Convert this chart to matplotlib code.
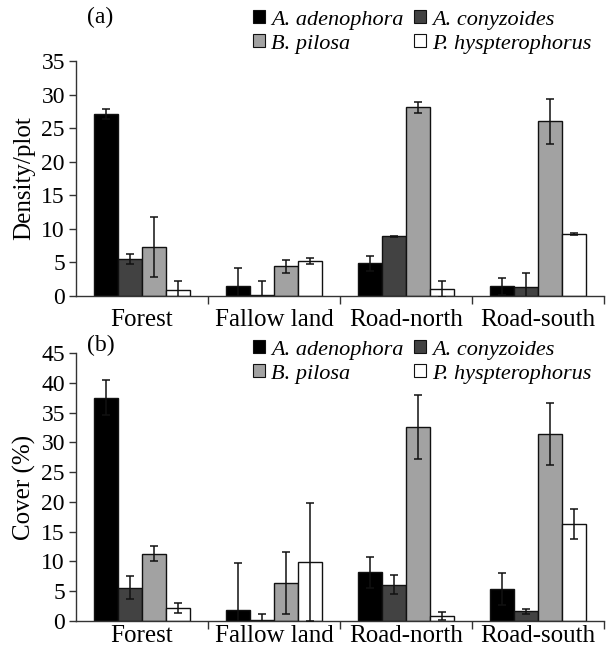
import numpy as np
import matplotlib
matplotlib.use("Agg")
import matplotlib.pyplot as plt
from matplotlib.patches import Patch

plt.rcParams['font.family'] = ['Liberation Serif', 'DejaVu Serif']

categories = ['Forest', 'Fallow land', 'Road-north', 'Road-south']
species = ['A. adenophora', 'A. conyzoides', 'B. pilosa', 'P. hyspterophorus']
colors = ['#000000', '#424242', '#a2a2a2', '#ffffff']

# (a) density per plot, mean and error, one list per species
density_adenophora = [27.1, 1.55, 4.85, 1.45]
density_conyzoides = [5.5, 0.2, 8.9, 1.35]
density_pilosa = [7.3, 4.4, 28.1, 26.0]
density_hyst = [0.85, 5.2, 1.0, 9.2]
density_err_adenophora = [0.8, 2.6, 1.1, 1.25]
density_err_conyzoides = [0.7, 2.0, 0.1, 2.1]
density_err_pilosa = [4.4, 0.95, 0.8, 3.35]
density_err_hyst = [1.4, 0.4, 1.2, 0.15]

# (b) cover (%)
cover_adenophora = [37.5, 1.9, 8.15, 5.4]
cover_conyzoides = [5.6, 0.25, 6.1, 1.6]
cover_pilosa = [11.3, 6.45, 32.55, 31.4]
cover_hyst = [2.15, 9.9, 0.9, 16.3]
cover_err_adenophora = [2.9, 7.8, 2.65, 2.7]
cover_err_conyzoides = [1.9, 0.9, 1.65, 0.45]
cover_err_pilosa = [1.3, 5.2, 5.35, 5.2]
cover_err_hyst = [0.85, 9.9, 0.65, 2.5]

density = [density_adenophora, density_conyzoides, density_pilosa, density_hyst]
density_err = [density_err_adenophora, density_err_conyzoides,
               density_err_pilosa, density_err_hyst]
cover = [cover_adenophora, cover_conyzoides, cover_pilosa, cover_hyst]
cover_err = [cover_err_adenophora, cover_err_conyzoides,
             cover_err_pilosa, cover_err_hyst]

W, H = 610, 652
fig = plt.figure(figsize=(W / 100, H / 100), dpi=100)


def px_rect(left, right, top, bottom):
    return [left / W, 1 - bottom / H, (right - left) / W, (bottom - top) / H]


def draw_panel(ax, means, errs, ymax, ylabel, legend_top, xpad):
    x = np.arange(len(categories))
    bw = 0.182
    for i, (m, e) in enumerate(zip(means, errs)):
        pos = x + (i - 1.5) * bw
        ax.bar(pos, m, width=bw, color=colors[i], edgecolor='#111111',
               linewidth=1.0, zorder=2)
        ax.errorbar(pos, m, yerr=e, fmt='none', ecolor='#111111',
                    elinewidth=1.1, capsize=3.2, capthick=1.1, zorder=3)
    ax.set_xlim(-0.5, 3.5)
    ax.set_ylim(0, ymax)
    ax.set_yticks(np.arange(0, ymax + 1, 5))
    ax.set_xticks(x)
    ax.set_xticklabels(categories, fontsize=18)
    ax.set_xticks(np.arange(0.5, 4.0, 1.0), minor=True)
    ax.tick_params(axis='x', which='major', length=0, pad=xpad)
    ax.tick_params(axis='x', which='minor', length=6, width=1,
                   direction='out', color='#333333')
    ax.tick_params(axis='y', labelsize=17, length=5, width=1,
                   direction='out', color='#333333', pad=3)
    for s in ['top', 'right']:
        ax.spines[s].set_visible(False)
    for s in ['left', 'bottom']:
        ax.spines[s].set_linewidth(1.0)
        ax.spines[s].set_color('#333333')
    ax.set_ylabel(ylabel, fontsize=18, labelpad=4)

    handles = [Patch(facecolor=c, edgecolor='#111111', linewidth=0.8)
               for c in colors]
    order = [0, 2, 1, 3]
    fig.legend([handles[k] for k in order], [species[k] for k in order],
               ncol=2, loc='upper left', bbox_to_anchor=(253 / W, legend_top),
               frameon=False, borderpad=0, borderaxespad=0,
               handlelength=0.55, handleheight=0.55, handletextpad=0.25,
               columnspacing=0.5, labelspacing=0.2,
               prop={'family': 'Liberation Serif', 'style': 'italic',
                     'size': 16})
    return ax


ax_a = fig.add_axes(px_rect(76, 604, 61, 296))
draw_panel(ax_a, density, density_err, 35, 'Density/plot', 1 - 10 / H, 9)
fig.text(100 / W, 1 - 17 / H, '(a)', fontsize=17, ha='center', va='center')

ax_b = fig.add_axes(px_rect(76, 604, 353, 621))
draw_panel(ax_b, cover, cover_err, 45, 'Cover (%)', 1 - 340 / H, 3)
fig.text(101 / W, 1 - 345 / H, '(b)', fontsize=17, ha='center', va='center')

fig.savefig('out.png', dpi=100)
